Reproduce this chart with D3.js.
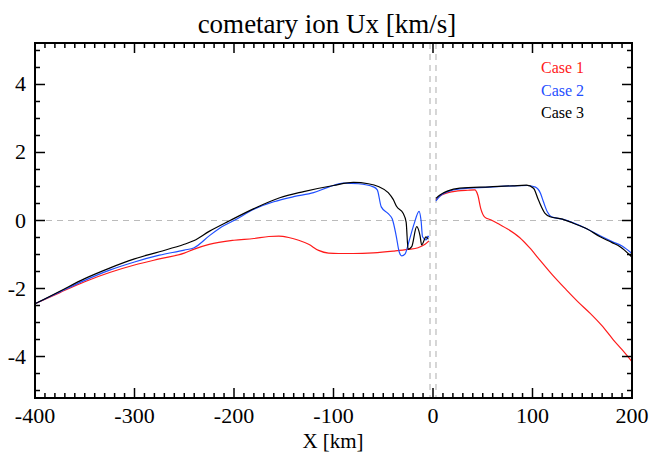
<!DOCTYPE html>
<html><head><meta charset="utf-8">
<script src="https://cdn.jsdelivr.net/npm/d3@7"></script>
<style>body{margin:0;background:#fff}svg{display:block}text{font-family:"Liberation Serif",serif}</style>
</head><body>
<svg id="c" width="651" height="453"></svg>
<script>
const title = "cometary ion Ux [km/s]";
const xLabel = "X [km]";
const xTicks = [-400,-300,-200,-100,0,100,200];
const yTicks = [-4,-2,0,2,4];
const seriesNames = ["Case 1","Case 2","Case 3"];
const seriesColors = ["#ff1a1a","#1f4fff","#000000"];

// Case 1 (red): left and right of nucleus
const case1LeftX = [-400,-375,-350,-325,-300,-275,-250,-240,-225,-200,-180,-165,-155,-145,-135,-125,-115,-105,-95,-80,-60,-40,-25,-15,-8,-4];
const case1LeftY = [-2.45,-2.12,-1.8,-1.53,-1.31,-1.13,-0.96,-0.84,-0.7,-0.58,-0.53,-0.47,-0.46,-0.5,-0.58,-0.7,-0.88,-0.96,-0.97,-0.97,-0.95,-0.9,-0.85,-0.8,-0.7,-0.6];
const case1RightX = [3,7,15,25,35,42,45,48,52,58,67,75,87,97,107,120,134,146,158,170,181,190,200];
const case1RightY = [0.6,0.72,0.82,0.87,0.89,0.9,0.75,0.35,0.1,0.02,-0.12,-0.25,-0.5,-0.8,-1.15,-1.6,-2.04,-2.4,-2.73,-3.1,-3.5,-3.8,-4.15];

// Case 2 (blue)
const case2LeftX = [-400,-375,-350,-325,-300,-275,-250,-240,-224,-210,-200,-180,-160,-140,-120,-105,-90,-75,-60,-56,-52,-45,-41,-37,-34,-31.5,-28,-24,-19,-14,-12,-10.5,-7,-5,-4];
const case2LeftY = [-2.45,-2.1,-1.76,-1.46,-1.22,-1.02,-0.87,-0.8,-0.43,-0.15,0.0,0.33,0.55,0.7,0.82,0.98,1.1,1.08,0.99,0.9,0.4,0.2,0.05,-0.45,-0.92,-1.04,-0.98,-0.6,-0.1,0.27,0.0,-0.48,-0.57,-0.46,-0.5];
const case2RightX = [3,7,15,27,57,80,95,103,108,111,115,119,130,141,155,168,180,190,200];
const case2RightY = [0.58,0.72,0.85,0.93,0.98,1.02,1.03,0.98,0.8,0.55,0.25,0.11,0.04,-0.07,-0.25,-0.45,-0.62,-0.75,-0.97];

// Case 3 (black)
const case3LeftX = [-400,-375,-350,-325,-300,-275,-250,-240,-225,-204,-180,-154,-130,-100,-80,-65,-55,-45,-40,-36.5,-30,-27,-25,-21.4,-16.4,-13,-11.4,-7,-4.7];
const case3LeftY = [-2.45,-2.08,-1.71,-1.4,-1.13,-0.92,-0.7,-0.59,-0.32,0.0,0.35,0.67,0.85,1.03,1.12,1.08,1.0,0.82,0.62,0.41,0.21,-0.05,-0.85,-0.77,-0.18,-0.45,-0.72,-0.48,-0.55];
const case3RightX = [3,7,15,27,57,80,94,101,106,112.6,117.6,130,141,155,168,180,188,200];
const case3RightY = [0.65,0.75,0.87,0.95,0.99,1.02,1.04,0.95,0.6,0.21,0.11,0.04,-0.08,-0.25,-0.48,-0.65,-0.77,-1.08];

const svg = d3.select("#c");
const L = 35, R = 632, T = 43, B = 398;
const x = d3.scaleLinear().domain([-400,200]).range([L,R]);
const y = d3.scaleLinear().domain([-5.22,5.22]).range([B,T]);

// reference lines
const g0 = svg.append("g").attr("stroke","#bbb").attr("stroke-width",1.2).attr("stroke-dasharray","6,5");
g0.append("line").attr("x1",L).attr("x2",R).attr("y1",y(0)).attr("y2",y(0));
[-3,3].forEach(v=>g0.append("line").attr("x1",x(v)).attr("x2",x(v)).attr("y1",T).attr("y2",B));

// series
const line = d3.line().x(d=>x(d[0])).y(d=>y(d[1])).curve(d3.curveMonotoneX);
const segs = [
  [case1LeftX,case1LeftY,0],[case1RightX,case1RightY,0],
  [case2LeftX,case2LeftY,1],[case2RightX,case2RightY,1],
  [case3LeftX,case3LeftY,2],[case3RightX,case3RightY,2]
];
segs.forEach(([xs,ys,i])=>{
  svg.append("path").datum(xs.map((v,k)=>[v,ys[k]]))
    .attr("d",line).attr("fill","none").attr("stroke",seriesColors[i]).attr("stroke-width",1.2);
});

// axes with inward ticks
function ticksX(g, pos, dir){
  d3.range(-400,201,10).forEach(v=>{
    const len = xTicks.includes(v)?10:5;
    g.append("line").attr("x1",x(v)).attr("x2",x(v)).attr("y1",pos).attr("y2",pos+dir*len)
      .attr("stroke","#000").attr("stroke-width",1.5);
  });
}
function ticksY(g, pos, dir){
  d3.range(-5,5.01,0.5).forEach(v=>{
    const len = yTicks.includes(v)?10:5;
    g.append("line").attr("y1",y(v)).attr("y2",y(v)).attr("x1",pos).attr("x2",pos+dir*len)
      .attr("stroke","#000").attr("stroke-width",1.5);
  });
}
const ga = svg.append("g");
ticksX(ga,B,-1); ticksX(ga,T,1); ticksY(ga,L,1); ticksY(ga,R,-1);
svg.append("rect").attr("x",L).attr("y",T).attr("width",R-L).attr("height",B-T)
  .attr("fill","none").attr("stroke","#000").attr("stroke-width",2);

// tick labels
svg.append("g").selectAll("text").data(xTicks).join("text")
  .attr("x",d=>x(d)).attr("y",423).attr("text-anchor","middle")
  .attr("font-size",22).text(d=>d);
svg.append("g").selectAll("text").data(yTicks).join("text")
  .attr("x",26).attr("y",d=>y(d)+7).attr("text-anchor","end")
  .attr("font-size",22).text(d=>d);

// titles
svg.append("text").attr("x",327).attr("y",33).attr("text-anchor","middle")
  .attr("font-size",27).text(title);
svg.append("text").attr("x",333).attr("y",448).attr("text-anchor","middle")
  .attr("font-size",21).text(xLabel);

// legend
seriesNames.forEach((n,i)=>{
  svg.append("text").attr("x",541).attr("y",73+i*22.5)
    .attr("font-size",16).attr("fill",seriesColors[i]).text(n);
});
</script>
</body></html>
